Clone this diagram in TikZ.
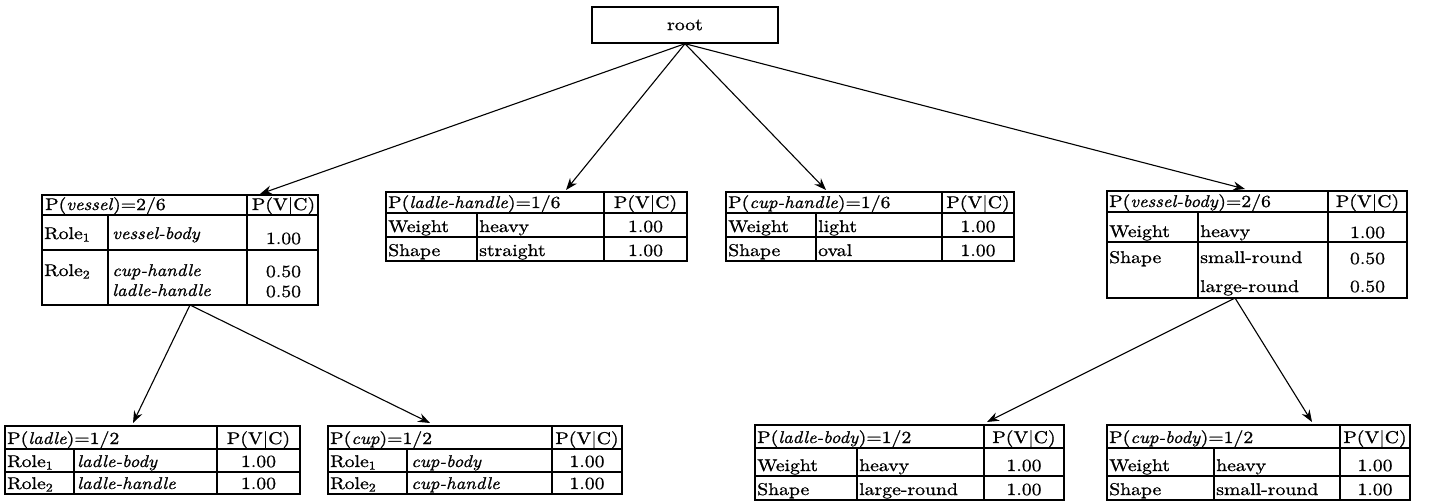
\documentclass[tikz,border=0pt]{standalone}
\usepackage{fontspec}
% wide, slightly heavy Roman face for all table text
\setmainfont{lmroman10-regular.otf}[
  FakeStretch=1.16, FakeBold=1.0,
  ItalicFont=lmroman10-italic.otf,
  ItalicFeatures={FakeStretch=1.1, FakeBold=1.0}]
\usetikzlibrary{arrows.meta}
\tikzset{
  tbl/.style={draw, line width=1.4pt, inner sep=0pt, outer sep=0pt, anchor=north west},
  rule/.style={line width=1.2pt},
  txt/.style={anchor=base west, inner sep=0pt, font=\fontsize{17}{19}\selectfont},
  num/.style={txt, anchor=base},
  link/.style={line width=1.1pt, -{Stealth[length=12pt,width=9pt,inset=4pt]}},
}
\newcommand\sub[1]{\textsubscript{#1}}
\begin{document}
\begin{tikzpicture}[x=1pt,y=-1pt]
\useasboundingbox (0,0) rectangle (1434,503);

% root
\node[draw, line width=1.4pt, minimum width=186pt, minimum height=36pt, inner sep=0pt,
      font=\fontsize{17}{19}\selectfont] (root) at (685,25) {root};

% ---------- vessel ----------
\node[tbl, minimum width=276pt, minimum height=110pt] (vessel) at (42,195) {};
\draw[rule] (42,215) -- (318,215) (42,250) -- (318,250)
            (108,215) -- (108,305) (247,195) -- (247,305);
\node[txt] (v0) at (45,210) {P(\textit{vessel})=2/6};
\node[num] (v1) at (283.5,210) {P(V|C)};
\node[txt] (v2) at (44,239) {Role\sub{1}};
\node[txt] (v3) at (112,239) {\textit{vessel-body}};
\node[num] (v4) at (283.5,244) {1.00};
\node[txt] (v5) at (44,276) {Role\sub{2}};
\node[txt] (v6) at (112,276) {\textit{cup-handle}};
\node[txt] (v7) at (112,296) {\textit{ladle-handle}};
\node[num] (v8) at (283.5,277) {0.50};
\node[num] (v9) at (283.5,297) {0.50};

% ---------- ladle-handle ----------
\node[tbl, minimum width=301pt, minimum height=69pt] (lhandle) at (386,192) {};
\draw[rule] (386,213) -- (687,213) (386,237) -- (687,237)
            (477,213) -- (477,261) (604,192) -- (604,261);
\node[txt] (lh0) at (388,208) {P(\textit{ladle-handle})=1/6};
\node[num] (lh1) at (645.5,208) {P(V|C)};
\node[txt] (lh2) at (388,232) {Weight};
\node[txt] (lh3) at (479,232) {heavy};
\node[num] (lh4) at (645.5,232) {1.00};
\node[txt] (lh5) at (388,256) {Shape};
\node[txt] (lh6) at (479,256) {straight};
\node[num] (lh7) at (645.5,256) {1.00};

% ---------- cup-handle ----------
\node[tbl, minimum width=288pt, minimum height=69pt] (chandle) at (726,192) {};
\draw[rule] (726,213) -- (1014,213) (726,237) -- (1014,237)
            (816,213) -- (816,261) (942,192) -- (942,261);
\node[txt] (ch0) at (728,208) {P(\textit{cup-handle})=1/6};
\node[num] (ch1) at (978,208) {P(V|C)};
\node[txt] (ch2) at (728,232) {Weight};
\node[txt] (ch3) at (818,232) {light};
\node[num] (ch4) at (978,232) {1.00};
\node[txt] (ch5) at (728,256) {Shape};
\node[txt] (ch6) at (818,256) {oval};
\node[num] (ch7) at (978,256) {1.00};

% ---------- vessel-body ----------
\node[tbl, minimum width=300pt, minimum height=107pt] (vbody) at (1107,191) {};
\draw[rule] (1107,212) -- (1407,212) (1107,242) -- (1407,242)
            (1198,212) -- (1198,298) (1328,191) -- (1328,298);
\node[txt] (vb0) at (1109,207) {P(\textit{vessel-body})=2/6};
\node[num] (vb1) at (1367.5,207) {P(V|C)};
\node[txt] (vb2) at (1109,237) {Weight};
\node[txt] (vb3) at (1200,237) {heavy};
\node[num] (vb4) at (1367.5,238) {1.00};
\node[txt] (vb5) at (1109,263) {Shape};
\node[txt] (vb6) at (1200,263) {small-round};
\node[txt] (vb7) at (1200,292) {large-round};
\node[num] (vb8) at (1367.5,264) {0.50};
\node[num] (vb9) at (1367.5,292) {0.50};

% ---------- ladle ----------
\node[tbl, minimum width=295pt, minimum height=68pt] (ladle) at (5,426) {};
\draw[rule] (5,449) -- (300,449) (5,472) -- (300,472)
            (74,449) -- (74,494) (217,426) -- (217,494);
\node[txt] (l0) at (7,444) {P(\textit{ladle})=1/2};
\node[num] (l1) at (258.5,444) {P(V|C)};
\node[txt] (l2) at (7,467) {Role\sub{1}};
\node[txt] (l3) at (77,467) {\textit{ladle-body}};
\node[num] (l4) at (258.5,467) {1.00};
\node[txt] (l5) at (7,489) {Role\sub{2}};
\node[txt] (l6) at (77,489) {\textit{ladle-handle}};
\node[num] (l7) at (258.5,489) {1.00};

% ---------- cup ----------
\node[tbl, minimum width=294pt, minimum height=68pt] (cup) at (328,426) {};
\draw[rule] (328,449) -- (622,449) (328,472) -- (622,472)
            (407,449) -- (407,494) (552,426) -- (552,494);
\node[txt] (c0) at (330,444) {P(\textit{cup})=1/2};
\node[num] (c1) at (587,444) {P(V|C)};
\node[txt] (c2) at (330,467) {Role\sub{1}};
\node[txt] (c3) at (411,467) {\textit{cup-body}};
\node[num] (c4) at (587,467) {1.00};
\node[txt] (c5) at (330,489) {Role\sub{2}};
\node[txt] (c6) at (411,489) {\textit{cup-handle}};
\node[num] (c7) at (587,489) {1.00};

% ---------- ladle-body ----------
\node[tbl, minimum width=309pt, minimum height=75pt] (lbody) at (755,425) {};
\draw[rule] (755,448) -- (1064,448) (755,476) -- (1064,476)
            (857,448) -- (857,500) (984,425) -- (984,500);
\node[txt] (lb0) at (757,443) {P(\textit{ladle-body})=1/2};
\node[num] (lb1) at (1024,443) {P(V|C)};
\node[txt] (lb2) at (757,471) {Weight};
\node[txt] (lb3) at (859,471) {heavy};
\node[num] (lb4) at (1024,471) {1.00};
\node[txt] (lb5) at (757,495) {Shape};
\node[txt] (lb6) at (859,495) {large-round};
\node[num] (lb7) at (1024,495) {1.00};

% ---------- cup-body ----------
\node[tbl, minimum width=303pt, minimum height=75pt] (cbody) at (1107,425) {};
\draw[rule] (1107,448) -- (1410,448) (1107,476) -- (1410,476)
            (1214,448) -- (1214,500) (1340,425) -- (1340,500);
\node[txt] (cb0) at (1109,443) {P(\textit{cup-body})=1/2};
\node[num] (cb1) at (1375,443) {P(V|C)};
\node[txt] (cb2) at (1109,471) {Weight};
\node[txt] (cb3) at (1216,471) {heavy};
\node[num] (cb4) at (1375,471) {1.00};
\node[txt] (cb5) at (1109,495) {Shape};
\node[txt] (cb6) at (1216,495) {small-round};
\node[num] (cb7) at (1375,495) {1.00};

% ---------- links ----------
\draw[link] (root.south) -- ([xshift=218pt,yshift=1pt]vessel.north west);
\draw[link] (root.south) -- ([xshift=180pt,yshift=2pt]lhandle.north west);
\draw[link] (root.south) -- ([xshift=100pt,yshift=2pt]chandle.north west);
\draw[link] (root.south) -- ([xshift=138pt,yshift=2pt]vbody.north west);
\draw[link] ([xshift=148pt]vessel.south west) -- ([xshift=128pt,yshift=3pt]ladle.north west);
\draw[link] ([xshift=148pt]vessel.south west) -- ([xshift=102pt,yshift=3pt]cup.north west);
\draw[link] ([xshift=128pt]vbody.south west) -- ([xshift=232pt,yshift=3pt]lbody.north west);
\draw[link] ([xshift=128pt]vbody.south west) -- ([xshift=205pt,yshift=3pt]cbody.north west);
\end{tikzpicture}
\end{document}
